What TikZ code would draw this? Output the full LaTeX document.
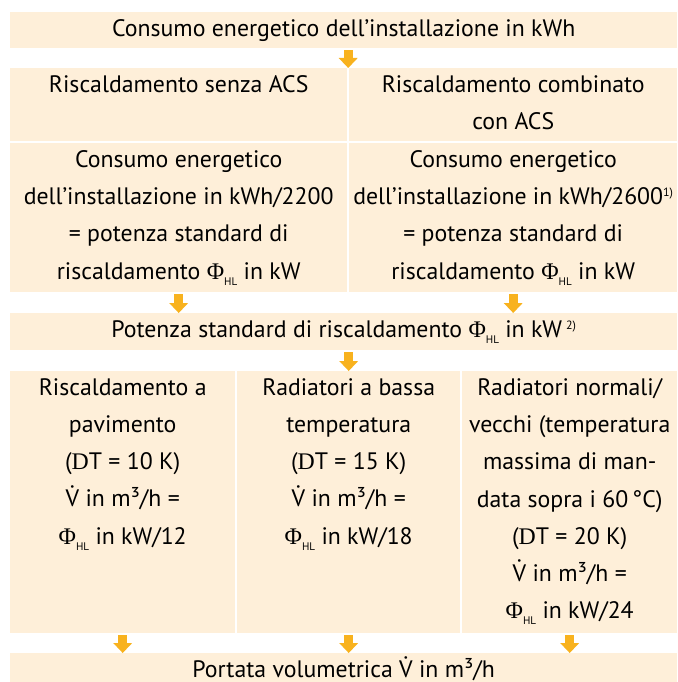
\documentclass[tikz,border=0pt]{standalone}
\usepackage{fontspec}
\setmainfont{PT Sans}
\newfontfamily\greco{Liberation Serif}
\usetikzlibrary{arrows.meta,calc}

\definecolor{beige}{RGB}{254,239,217}
\definecolor{ambra}{RGB}{248,178,30}

\newcommand{\phihl}{{\greco Φ}\raisebox{-6pt}{\fontsize{11}{11}\selectfont HL}}
\newcommand{\apice}[1]{\raisebox{8pt}{\fontsize{12}{12}\selectfont #1}}
\newcommand{\vpunto}{\accent"02D9 V}

\begin{document}
\begin{tikzpicture}[
    x=1pt, y=-1pt,
    font=\fontsize{23.8}{37.3}\selectfont,
    cella/.style={
        fill=beige,
        inner sep=0pt,
        anchor=north west
    },
    testo/.style={
        align=center,
        inner sep=0pt,
        anchor=north,
        yshift=-7pt
    },
    freccia/.style={
        draw=ambra,
        line width=9pt,
        -{Triangle[width=19pt,length=10pt,line width=0pt,fill=ambra]},
        shorten <=2pt
    }
]
    \useasboundingbox (0,0) rectangle (677,682);

    \node[cella, minimum width=667pt, minimum height=36pt] (consumo) at (10,12) {};
    \node[cella, minimum width=337pt, minimum height=73pt] (senza) at (10,68) {};
    \node[cella, minimum width=328pt, minimum height=73pt] (combinato) at (349,68) {};
    \node[cella, minimum width=337pt, minimum height=149pt] (formulaS) at (10,143) {};
    \node[cella, minimum width=328pt, minimum height=149pt] (formulaC) at (349,143) {};
    \node[cella, minimum width=667pt, minimum height=37pt] (potenza) at (10,313) {};
    \node[cella, minimum width=225pt, minimum height=262pt] (pavimento) at (10,371) {};
    \node[cella, minimum width=223pt, minimum height=262pt] (bassa) at (237,371) {};
    \node[cella, minimum width=215pt, minimum height=262pt] (normali) at (462,371) {};
    \node[cella, minimum width=667pt, minimum height=29pt] (portata) at (10,653) {};

    \node[testo] (tConsumo) at (consumo.north)
        {Consumo energetico dell’installazione in kWh};
    \node[testo] (tSenza) at (senza.north)
        {Riscaldamento senza ACS};
    \node[testo] (tCombinato) at (combinato.north)
        {Riscaldamento combinato\\con ACS};
    \node[testo] (tFormulaS) at (formulaS.north)
        {Consumo energetico\\dell’installazione in kWh/2200\\= potenza standard di\\riscaldamento \phihl{} in kW};
    \node[testo] (tFormulaC) at (formulaC.north)
        {Consumo energetico\\dell’installazione in kWh/2600\apice{1)}\\= potenza standard di\\riscaldamento \phihl{} in kW};
    \node[testo] (tPotenza) at (potenza.north)
        {Potenza standard di riscaldamento \phihl{} in kW\,\apice{2)}};
    \node[testo] (tPavimento) at (pavimento.north)
        {Riscaldamento a\\pavimento\\({\greco D}T = 10 K)\\\vpunto{} in m³/h =\\\phihl{} in kW/12};
    \node[testo] (tBassa) at (bassa.north)
        {Radiatori a bassa\\temperatura\\({\greco D}T = 15 K)\\\vpunto{} in m³/h =\\\phihl{} in kW/18};
    \node[testo] (tNormali) at (normali.north)
        {Radiatori normali/\\vecchi (temperatura\\massima di man-\\data sopra i 60\,°C)\\({\greco D}T = 20 K)\\\vpunto{} in m³/h =\\\phihl{} in kW/24};
    \node[testo, yshift=4pt] (tPortata) at (portata.north)
        {Portata volumetrica \vpunto{} in m³/h};

    \coordinate (divisore) at ($(senza.north east)!.5!(combinato.north west)$);
    \draw[freccia] (consumo.south -| divisore) -- (divisore);
    \draw[freccia] (formulaS.south) -- (formulaS.south |- potenza.north);
    \draw[freccia] (formulaC.south) -- (formulaC.south |- potenza.north);
    \draw[freccia] (potenza.south -| bassa.north) -- (bassa.north);
    \draw[freccia] (pavimento.south) -- (pavimento.south |- portata.north);
    \draw[freccia] (bassa.south) -- (bassa.south |- portata.north);
    \draw[freccia] (normali.south) -- (normali.south |- portata.north);
\end{tikzpicture}
\end{document}
